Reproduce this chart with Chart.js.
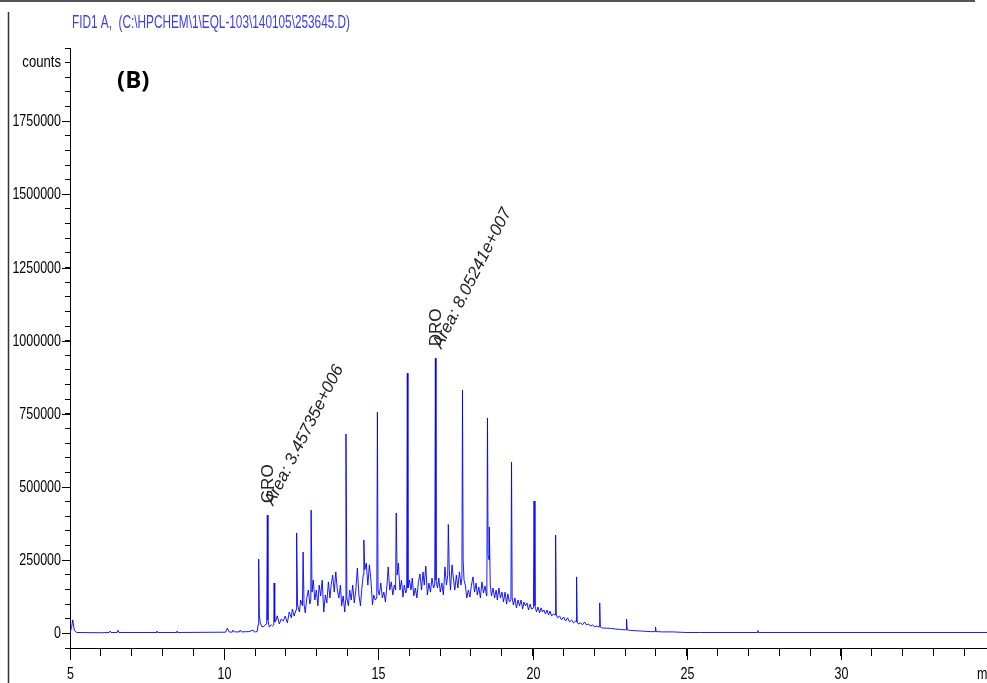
<!DOCTYPE html>
<html>
<head>
<meta charset="utf-8">
<title>FID1 A chromatogram</title>
<script src="https://cdn.jsdelivr.net/npm/chart.js@4.4.1/dist/chart.umd.min.js"></script>
<style>
  html, body { margin: 0; padding: 0; background: #fff; overflow: hidden; }
  canvas { display: block; }
</style>
</head>
<body>
<canvas id="chromChart" width="1020" height="683"></canvas>
<script>
// retention time (min) and detector signal (counts)
const times = [
  5.00, 5.05, 5.09, 5.14, 5.22, 6.00, 6.27, 6.30, 6.33, 6.53,
  6.56, 6.59, 7.79, 7.82, 7.85, 8.44, 8.47, 8.50, 10.05, 10.10,
  10.16, 10.26, 10.29, 10.33, 10.49, 10.52, 10.56, 10.80, 10.94, 10.98,
  11.01, 11.07, 11.10, 11.12, 11.14, 11.17, 11.23, 11.30, 11.36, 11.38,
  11.40, 11.42, 11.46, 11.53, 11.57, 11.61, 11.62, 11.64, 11.69, 11.72,
  11.79, 11.85, 11.92, 11.98, 12.05, 12.11, 12.18, 12.21, 12.27, 12.33,
  12.35, 12.38, 12.44, 12.48, 12.54, 12.56, 12.59, 12.63, 12.68, 12.73,
  12.78, 12.81, 12.82, 12.85, 12.89, 12.94, 12.99, 13.04, 13.08, 13.13,
  13.18, 13.23, 13.28, 13.33, 13.38, 13.43, 13.47, 13.52, 13.57, 13.62,
  13.67, 13.72, 13.77, 13.81, 13.86, 13.91, 13.94, 13.95, 13.98, 14.03,
  14.07, 14.12, 14.17, 14.22, 14.27, 14.32, 14.37, 14.42, 14.46, 14.51,
  14.53, 14.56, 14.61, 14.66, 14.71, 14.76, 14.81, 14.85, 14.90, 14.95,
  14.97, 14.99, 15.03, 15.08, 15.13, 15.18, 15.23, 15.28, 15.32, 15.37,
  15.42, 15.47, 15.52, 15.56, 15.58, 15.61, 15.65, 15.70, 15.75, 15.80,
  15.84, 15.89, 15.92, 15.94, 15.96, 16.01, 16.06, 16.10, 16.15, 16.20,
  16.25, 16.30, 16.35, 16.40, 16.45, 16.49, 16.54, 16.59, 16.64, 16.69,
  16.74, 16.79, 16.83, 16.85, 16.87, 16.92, 16.96, 17.01, 17.06, 17.11,
  17.16, 17.21, 17.25, 17.27, 17.30, 17.34, 17.39, 17.44, 17.48, 17.53,
  17.58, 17.63, 17.68, 17.71, 17.73, 17.75, 17.78, 17.82, 17.87, 17.92,
  17.97, 18.02, 18.07, 18.12, 18.17, 18.21, 18.26, 18.31, 18.36, 18.41,
  18.46, 18.51, 18.52, 18.54, 18.56, 18.59, 18.60, 18.63, 18.67, 18.72,
  18.77, 18.82, 18.86, 18.91, 18.96, 19.01, 19.06, 19.11, 19.16, 19.20,
  19.25, 19.30, 19.32, 19.34, 19.38, 19.43, 19.48, 19.53, 19.58, 19.63,
  19.68, 19.72, 19.77, 19.82, 19.87, 19.92, 19.97, 20.03, 20.05, 20.08,
  20.13, 20.18, 20.23, 20.28, 20.32, 20.37, 20.42, 20.47, 20.52, 20.57,
  20.62, 20.67, 20.73, 20.75, 20.77, 20.81, 20.88, 20.94, 21.01, 21.07,
  21.14, 21.20, 21.27, 21.33, 21.40, 21.42, 21.43, 21.45, 21.49, 21.56,
  21.62, 21.69, 21.75, 21.82, 21.88, 21.95, 22.01, 22.08, 22.16, 22.18,
  22.20, 22.27, 22.40, 22.53, 22.69, 22.86, 23.04, 23.05, 23.07, 23.18,
  23.51, 23.83, 23.98, 23.99, 24.01, 24.22, 24.55, 24.97, 25.45, 27.29,
  27.31, 27.33, 35.00
];
const counts = [
  3000, 20000, 46000, 10000, 3000, 2000, 3000, 8000, 3000, 3000,
  11000, 3000, 3000, 8000, 3000, 3000, 8000, 3000, 4000, 18000,
  5000, 4000, 11000, 5000, 5000, 11000, 5000, 6000, 11000, 5000,
  5000, 6000, 29000, 254000, 63000, 36000, 22000, 25000, 32000, 39000,
  404000, 46000, 22000, 29000, 25000, 29000, 172000, 39000, 46000, 60000,
  32000, 49000, 42000, 59000, 36000, 73000, 53000, 83000, 59000, 80000,
  343000, 97000, 73000, 114000, 94000, 278000, 100000, 70000, 121000, 148000,
  100000, 114000, 421000, 141000, 182000, 114000, 148000, 94000, 165000, 128000,
  182000, 73000, 131000, 104000, 176000, 121000, 165000, 199000, 141000, 210000,
  148000, 121000, 165000, 94000, 128000, 73000, 114000, 681000, 121000, 94000,
  148000, 114000, 165000, 104000, 148000, 223000, 131000, 94000, 148000, 199000,
  319000, 217000, 240000, 165000, 234000, 182000, 97000, 131000, 114000, 121000,
  756000, 148000, 131000, 172000, 121000, 141000, 107000, 165000, 227000, 148000,
  176000, 131000, 165000, 148000, 411000, 199000, 240000, 148000, 182000, 124000,
  165000, 138000, 148000, 889000, 155000, 182000, 148000, 189000, 128000, 155000,
  121000, 176000, 203000, 148000, 210000, 165000, 230000, 131000, 172000, 141000,
  189000, 155000, 165000, 940000, 182000, 155000, 189000, 141000, 172000, 131000,
  227000, 165000, 199000, 372000, 217000, 148000, 234000, 182000, 148000, 199000,
  155000, 210000, 165000, 189000, 831000, 251000, 182000, 165000, 121000, 148000,
  124000, 165000, 193000, 141000, 172000, 131000, 158000, 121000, 176000, 138000,
  162000, 128000, 155000, 736000, 268000, 251000, 363000, 165000, 128000, 155000,
  121000, 148000, 114000, 155000, 121000, 141000, 107000, 141000, 100000, 135000,
  107000, 114000, 585000, 121000, 97000, 121000, 87000, 114000, 94000, 114000,
  83000, 107000, 94000, 104000, 80000, 100000, 83000, 87000, 452000, 94000,
  73000, 90000, 70000, 87000, 73000, 80000, 66000, 80000, 63000, 76000,
  59000, 66000, 63000, 336000, 66000, 53000, 59000, 46000, 56000, 42000,
  53000, 39000, 46000, 36000, 42000, 39000, 193000, 39000, 32000, 36000,
  29000, 39000, 29000, 32000, 25000, 29000, 22000, 25000, 22000, 104000,
  22000, 18000, 18000, 17000, 15000, 13000, 12000, 49000, 12000, 10000,
  8000, 6000, 6000, 22000, 6000, 5000, 5000, 3000, 3000, 3000,
  10000, 3000, 3000
];

// integration windows labelled on the trace
const peakTimes = [11.40, 16.85];
const peakHeights = [404000, 940000];
const peakNames = ['GRO', 'DRO'];
const peakAreas = ['Area: 3.45735e+006', 'Area: 8.05241e+007'];

const xMajorTicks = [5, 10, 15, 20, 25, 30];
const yMajorTicks = [0, 250000, 500000, 750000, 1000000, 1250000, 1500000, 1750000];
const xUnit = 'min';
const yUnit = 'counts';
const yUnitAt = 1950000;
const titleText = 'FID1 A,  (C:\\HPCHEM\\1\\EQL-103\\140105\\253645.D)';
const panelLabel = '(B)';

const baseFont = "'Liberation Sans', Arial, sans-serif";

// condensed text, like the narrow face of the instrument printout
function narrowText(ctx, text, x, y, align, size, squeeze) {
  ctx.save();
  ctx.translate(x, y);
  ctx.scale(squeeze, 1);
  ctx.font = size + 'px ' + baseFont;
  ctx.textAlign = align;
  ctx.textBaseline = 'middle';
  ctx.fillText(text, 0, 0);
  ctx.restore();
}

const chromDecor = {
  id: 'chromDecor',
  afterDraw(chart) {
    const ctx = chart.ctx;
    const xs = chart.scales.x;
    const ys = chart.scales.y;
    ctx.save();

    // page frame
    ctx.strokeStyle = '#555';
    ctx.lineWidth = 2;
    ctx.beginPath(); ctx.moveTo(0, 1); ctx.lineTo(975, 1); ctx.stroke();
    ctx.strokeStyle = '#333';
    ctx.lineWidth = 1.5;
    ctx.beginPath(); ctx.moveTo(8.5, 12); ctx.lineTo(8.5, 683); ctx.stroke();

    // longer tick marks and labels for the labelled values
    ctx.strokeStyle = '#000';
    ctx.fillStyle = '#000';
    ctx.lineWidth = 1;
    xMajorTicks.forEach(v => {
      const px = Math.round(xs.getPixelForValue(v)) + 0.5;
      ctx.beginPath(); ctx.moveTo(px, ys.bottom); ctx.lineTo(px, ys.bottom + 12); ctx.stroke();
      narrowText(ctx, String(v), px, 675, 'center', 16, 0.78);
    });
    narrowText(ctx, xUnit, 977, 675, 'left', 16, 0.78);
    yMajorTicks.forEach(v => {
      const py = Math.round(ys.getPixelForValue(v)) + 0.5;
      ctx.beginPath(); ctx.moveTo(xs.left - 8, py); ctx.lineTo(xs.left, py); ctx.stroke();
      narrowText(ctx, String(v), 61, py, 'right', 16, 0.78);
    });
    narrowText(ctx, yUnit, 61, ys.getPixelForValue(yUnitAt), 'right', 16, 0.82);

    // header
    ctx.fillStyle = '#3c3cf0';
    ctx.font = '18px ' + baseFont;
    ctx.textBaseline = 'middle';
    ctx.textAlign = 'left';
    const tw = ctx.measureText(titleText).width;
    ctx.save();
    ctx.translate(72, 23);
    ctx.scale(278 / tw, 1);
    ctx.fillText(titleText, 0, 0);
    ctx.restore();

    ctx.fillStyle = '#000';
    ctx.font = "bold 24px 'Open Sans', sans-serif";
    ctx.textBaseline = 'middle';
    ctx.fillText(panelLabel, 117, 81);

    // peak labels
    peakTimes.forEach((t, i) => {
      const px = xs.getPixelForValue(t);
      const py = ys.getPixelForValue(peakHeights[i]);
      ctx.fillStyle = '#222';
      ctx.save();
      ctx.translate(px + 1, py - 12);
      ctx.rotate(-Math.PI / 2);
      ctx.font = '17px ' + baseFont;
      ctx.textBaseline = 'middle';
      ctx.textAlign = 'left';
      ctx.fillText(peakNames[i], 0, 0);
      ctx.restore();

      ctx.save();
      ctx.translate(px + 6, py - 9);
      ctx.rotate(-63 * Math.PI / 180);
      ctx.font = 'italic 17px ' + baseFont;
      ctx.textBaseline = 'alphabetic';
      ctx.textAlign = 'left';
      ctx.fillText(peakAreas[i], 0, 0);
      ctx.restore();
    });

    ctx.restore();
  }
};

const chromChart = new Chart(document.getElementById('chromChart'), {
  type: 'line',
  data: {
    datasets: [{
      label: 'FID1 A',
      data: times.map((t, i) => ({ x: t, y: counts[i] })),
      borderColor: 'rgba(0, 0, 255, 0.9)',
      borderWidth: 1,
      pointRadius: 0,
      tension: 0,
      fill: false
    }]
  },
  options: {
    responsive: false,
    animation: false,
    layout: { padding: { top: 48, right: 25, left: 0, bottom: 0 } },
    plugins: {
      legend: { display: false },
      tooltip: { enabled: false }
    },
    scales: {
      x: {
        type: 'linear',
        min: 5,
        max: 35,
        afterFit: scale => { scale.height = 35; },
        border: { color: '#000', width: 1 },
        grid: { drawOnChartArea: false, drawTicks: true, tickLength: 8, color: '#000' },
        ticks: {
          stepSize: 1,
          autoSkip: false,
          maxRotation: 0,
          color: '#000',
          callback: () => ''
        }
      },
      y: {
        min: -50000,
        max: 2000000,
        afterFit: scale => { scale.width = 70; },
        border: { color: '#000', width: 1 },
        grid: { drawOnChartArea: false, drawTicks: true, tickLength: 5, color: '#000' },
        ticks: {
          stepSize: 50000,
          maxTicksLimit: 100,
          autoSkip: false,
          color: '#000',
          callback: () => ''
        }
      }
    }
  },
  plugins: [chromDecor]
});
</script>
</body>
</html>
